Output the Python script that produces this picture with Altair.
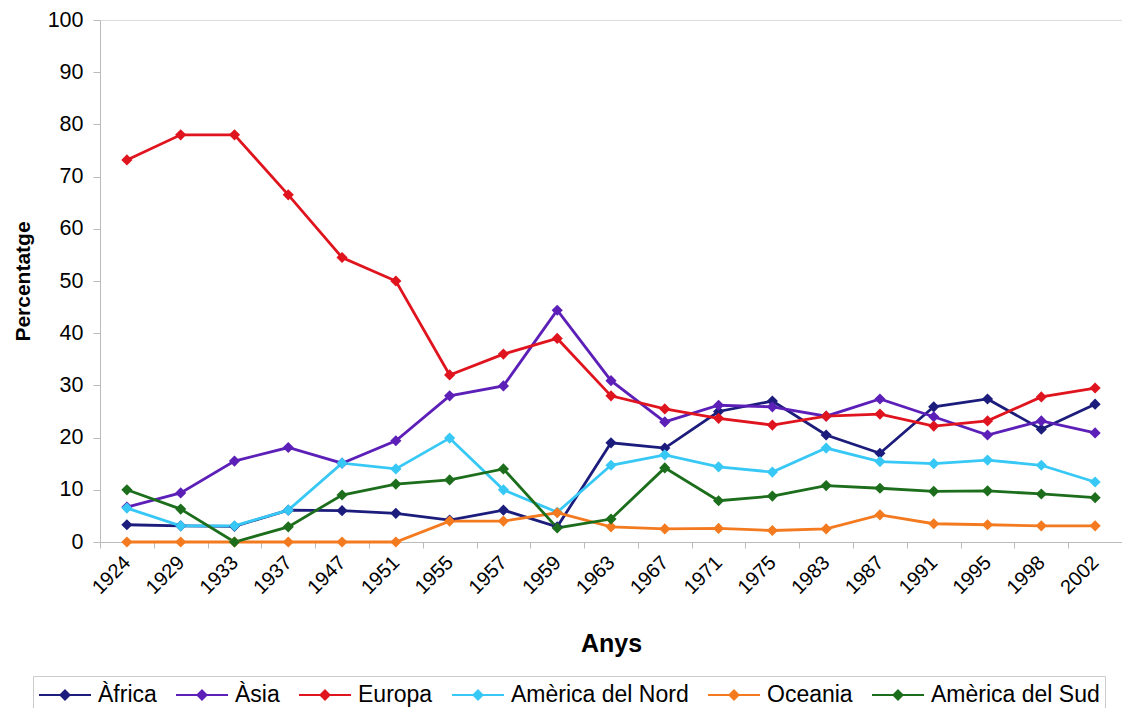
import altair as alt
import pandas as pd

years = ["1924", "1929", "1933", "1937", "1947", "1951", "1955", "1957", "1959", "1963",
         "1967", "1971", "1975", "1983", "1987", "1991", "1995", "1998", "2002"]

africa = [3.3, 3.1, 3.0, 6.1, 6.0, 5.5, 4.2, 6.1, 2.9, 19.0, 18.0, 25.0, 27.0, 20.5, 17.0, 25.9, 27.4, 21.6, 26.4]
asia = [6.7, 9.4, 15.5, 18.1, 15.1, 19.4, 28.0, 29.9, 44.4, 30.9, 23.0, 26.2, 25.9, 24.1, 27.4, 24.0, 20.5, 23.2, 20.9]
europa = [73.2, 78.0, 78.0, 66.5, 54.5, 50.0, 32.0, 36.0, 39.0, 28.0, 25.5, 23.7, 22.4, 24.1, 24.5, 22.2, 23.2, 27.8, 29.5]
nord = [6.5, 3.1, 3.1, 6.1, 15.1, 14.0, 19.9, 10.0, 5.7, 14.7, 16.7, 14.4, 13.4, 18.0, 15.4, 15.0, 15.7, 14.7, 11.5]
oceania = [0, 0, 0, 0, 0, 0, 4.0, 4.0, 5.6, 2.9, 2.5, 2.6, 2.2, 2.5, 5.2, 3.5, 3.3, 3.1, 3.1]
sud = [10.0, 6.3, 0.0, 2.9, 9.0, 11.1, 11.9, 14.0, 2.7, 4.4, 14.2, 7.9, 8.8, 10.8, 10.3, 9.7, 9.8, 9.2, 8.5]

series_names = ["Àfrica", "Àsia", "Europa", "Amèrica del Nord", "Oceania", "Amèrica del Sud"]
series_values = [africa, asia, europa, nord, oceania, sud]
series_colors = ["#1c1c7c", "#5c1fb8", "#e0141e", "#38c8f5", "#f47a20", "#1c6e1c"]

rows = []
for name, vals in zip(series_names, series_values):
    for y, v in zip(years, vals):
        rows.append({"Any": y, "Regió": name, "Percentatge": v})
df = pd.DataFrame(rows)

FONT = "Liberation Sans"

x_enc = alt.X(
    "Any:N", sort=years, bandPosition=0.5,
    scale=alt.Scale(type="band", paddingInner=0, paddingOuter=0),
    axis=alt.Axis(title="Anys", labelAngle=-45, labelFontSize=20, labelFont=FONT,
                  labelColor="#000", titleFontSize=25, titleFont=FONT, titleFontWeight="bold",
                  titleColor="#000", titlePadding=34, tickBand="extent", tickSize=6,
                  domainColor="#bbbbbb", tickColor="#bbbbbb", labelPadding=4, labelOffset=-7),
)
y_enc = alt.Y(
    "Percentatge:Q",
    scale=alt.Scale(domain=[0, 100], nice=False),
    axis=alt.Axis(title="Percentatge", values=list(range(0, 101, 10)), labelFontSize=21.5,
                  labelFont=FONT, labelColor="#000", titleFontSize=21, titleFont=FONT,
                  titleFontWeight="bold", titleColor="#000", titlePadding=14, tickSize=7,
                  domainColor="#bbbbbb", tickColor="#bbbbbb", grid=False, labelPadding=10),
)
color_enc = alt.Color(
    "Regió:N", sort=series_names,
    scale=alt.Scale(domain=series_names, range=series_colors),
    legend=alt.Legend(
        title=None, orient="none", direction="horizontal", legendX=-67, legendY=656,
        symbolType="M-2,0L2,0M0,-0.35L0.35,0L0,0.35L-0.35,0Z", symbolSize=676,
        symbolStrokeWidth=2, symbolOffset=13, labelFontSize=23, labelFont=FONT,
        labelColor="#000", columnPadding=15, labelOffset=19, labelLimit=400,
        strokeColor="#cccccc", padding=5, columns=6,
    ),
)

lines = alt.Chart(df).mark_line(strokeWidth=2.8).encode(x=x_enc, y=y_enc, color=color_enc)
points = alt.Chart(df).mark_point(shape="diamond", filled=True, size=125, opacity=1).encode(
    x=x_enc, y=y_enc, color=color_enc)

chart = alt.layer(lines, points).properties(
    width=1022, height=522,
    autosize=alt.AutoSizeParams(type="none"),
    padding={"left": 92, "top": 12, "right": 0, "bottom": 166},
).configure_view(stroke=None).configure(background="white")

chart.save("out.html", embed_options={"renderer": "svg", "actions": False})
